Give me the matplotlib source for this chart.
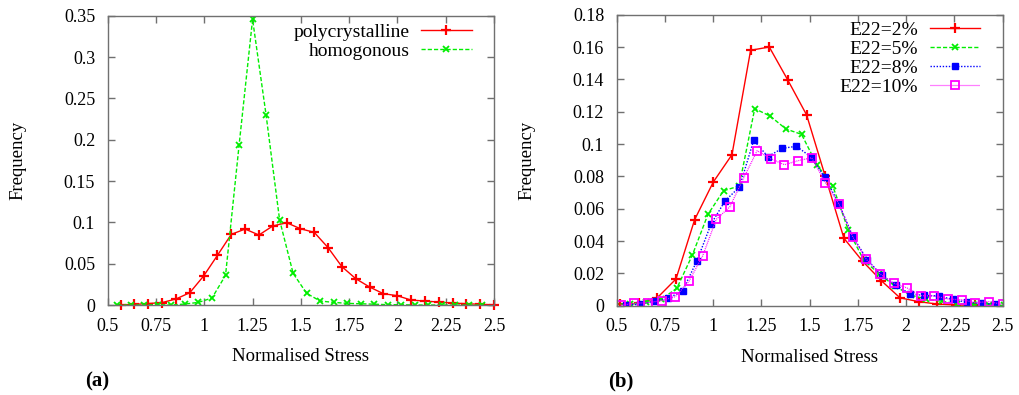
import matplotlib
matplotlib.use("Agg")
import matplotlib.pyplot as plt
import numpy as np

plt.rcParams['font.family'] = ['Liberation Serif', 'DejaVu Serif']

# ---- panel (a) data ----
poly_x = np.linspace(0.567, 2.5, 28)
poly_y = [0.0003, 0.0008, 0.0018, 0.003, 0.0073, 0.0149, 0.0351, 0.0601, 0.0855, 0.0919,
          0.0847, 0.0956, 0.0996, 0.0923, 0.0879, 0.0694, 0.0464, 0.0319, 0.0218, 0.0137,
          0.0113, 0.006, 0.0048, 0.0036, 0.0024, 0.0016, 0.0008, 0.0004]
homo_x = np.linspace(0.55, 2.44, 28)
homo_y = [0.0, 0.0, 0.0, 0.0004, 0.0, 0.0012, 0.0032, 0.0085, 0.0359, 0.193,
          0.3456, 0.2299, 0.1028, 0.0383, 0.0141, 0.0048, 0.0032, 0.002, 0.0015, 0.001,
          0.0004, 0.0004, 0.0, 0.0, 0.0, 0.0, 0.0, 0.0]

# ---- panel (b) data ----
e2_x = np.linspace(0.517, 2.451, 21)
e2_y = [0.0008, 0.0015, 0.0049, 0.0165, 0.0532, 0.0765, 0.0934, 0.158, 0.160, 0.1394,
        0.118, 0.080, 0.0417, 0.0275, 0.0155, 0.0049, 0.0025, 0.001, 0.0004, 0.0002, 0.0001]
e5_x = np.linspace(0.488, 2.508, 26)
e5_y = [0.001, 0.001, 0.002, 0.004, 0.0107, 0.0313, 0.0565, 0.0711, 0.074, 0.1219,
        0.1172, 0.1093, 0.106, 0.087, 0.0742, 0.0468, 0.028, 0.0195, 0.012, 0.0065,
        0.0041, 0.0027, 0.0012, 0.0008, 0.0003, 0.0002]
e8_x = np.linspace(0.547, 2.462, 27)
e8_y = [0.0004, 0.0008, 0.0028, 0.0046, 0.0093, 0.0276, 0.0505, 0.065, 0.0734, 0.1023,
        0.0922, 0.0973, 0.0986, 0.0922, 0.0795, 0.0629, 0.0423, 0.0283, 0.0188, 0.0128,
        0.0072, 0.0064, 0.006, 0.0039, 0.0021, 0.0014, 0.001]
e10_x = np.linspace(0.521, 2.5, 29)
e10_y = [0.0002, 0.0015, 0.0019, 0.0031, 0.0056, 0.0151, 0.0307, 0.0534, 0.0612, 0.0788,
         0.0959, 0.0909, 0.0872, 0.0897, 0.0915, 0.0761, 0.0629, 0.0427, 0.0287, 0.0196,
         0.014, 0.0109, 0.0062, 0.006, 0.0041, 0.0037, 0.0019, 0.0025, 0.0008]

xticks = [0.5, 0.75, 1, 1.25, 1.5, 1.75, 2, 2.25, 2.5]
xticklabels = ['0.5', '0.75', '1', '1.25', '1.5', '1.75', '2', '2.25', '2.5']
yticks_a = [0, 0.05, 0.1, 0.15, 0.2, 0.25, 0.3, 0.35]
yticklabels_a = ['0', '0.05', '0.1', '0.15', '0.2', '0.25', '0.3', '0.35']
yticks_b = [0, 0.02, 0.04, 0.06, 0.08, 0.1, 0.12, 0.14, 0.16, 0.18]
yticklabels_b = ['0', '0.02', '0.04', '0.06', '0.08', '0.1', '0.12', '0.14', '0.16', '0.18']

fig = plt.figure(figsize=(10.19, 3.95), dpi=100)
ax1 = fig.add_axes([0.1057, 0.2278, 0.3791, 0.7324])
ax2 = fig.add_axes([0.6052, 0.2261, 0.3788, 0.7367])

frame = '#707070'
green = '#00ee00'


def style(ax, yt, ytl, ymax):
    ax.set_xlim(0.5, 2.5)
    ax.set_ylim(0, ymax)
    ax.set_xticks(xticks)
    ax.set_xticklabels(xticklabels)
    ax.set_yticks(yt)
    ax.set_yticklabels(ytl)
    ax.tick_params(direction='in', top=True, right=True, length=5, width=1,
                   color=frame, labelsize=13)
    ax.tick_params(axis='x', pad=9)
    ax.tick_params(axis='y', pad=9)
    for s in ax.spines.values():
        s.set_color(frame)
        s.set_linewidth(1)
    ax.set_xlabel('Normalised Stress', fontsize=13.5, labelpad=10)
    ax.set_ylabel('Frequency', fontsize=13.5, labelpad=27)


ax1.plot(poly_x, poly_y, color='#ff0000', lw=1.0, marker='+', ms=7, mew=1.6,
         label='polycrystalline', clip_on=False)
ax1.plot(homo_x, homo_y, color=green, lw=1.0, ls=(0, (3, 1.5)), marker='x', ms=5,
         mew=1.3, label='homogonous')
style(ax1, yticks_a, yticklabels_a, 0.35)
ax1.legend(loc='upper right', frameon=False, markerfirst=False, fontsize=14,
           handlelength=2.6, numpoints=1, labelspacing=0.07, handletextpad=0.6,
           borderaxespad=0.0, bbox_to_anchor=(0.962, 1.0))

ax2.plot(e2_x, e2_y, color='#ff0000', lw=1.0, marker='+', ms=7, mew=1.6, label='E22=2%')
ax2.plot(e5_x, e5_y, color=green, lw=1.0, ls=(0, (3, 1.5)), marker='x', ms=5,
         mew=1.3, label='E22=5%')
ax2.plot(e8_x, e8_y, color='#0000ff', lw=1.0, ls=(0, (1, 1.2)), marker='s', ms=4,
         label='E22=8%')
ax2.plot(e10_x, e10_y, color='#ff00ff', lw=0.9, ls=(0, (0.8, 0.8)), marker='s', ms=6,
         mfc='none', mew=1.3, label='E22=10%')
style(ax2, yticks_b, yticklabels_b, 0.18)
ax2.legend(loc='upper right', frameon=False, markerfirst=False, fontsize=14,
           handlelength=2.6, numpoints=1, labelspacing=0.07, handletextpad=0.6,
           borderaxespad=0.0, bbox_to_anchor=(0.962, 1.003))

fig.text(97 / 1019, 1 - 381 / 395, '(a)', fontsize=15, fontweight='bold',
         ha='center', va='center')
fig.text(621 / 1019, 1 - 381 / 395, '(b)', fontsize=15, fontweight='bold',
         ha='center', va='center')

fig.savefig('out.png', dpi=100)
